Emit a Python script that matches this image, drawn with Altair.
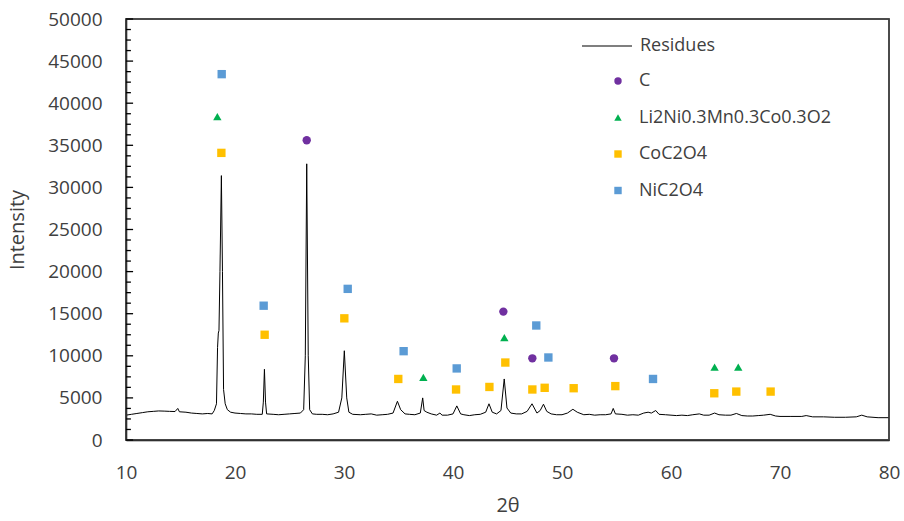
import altair as alt
import pandas as pd

# ---- XRD pattern ----
two_theta = [10.0, 10.5, 11.0, 11.5, 12.0, 12.5, 13.0, 13.5, 14.0, 14.5, 14.75, 14.9, 15.5, 16.0, 16.5,
             17.0, 17.5, 17.9, 18.1, 18.3, 18.4, 18.47, 18.53, 18.62, 18.75, 18.85, 18.95, 19.1, 19.3, 19.6,
             20.0, 20.5, 21.0, 21.5, 22.0, 22.5, 22.6, 22.7, 22.8, 22.9, 23.5, 24.0, 24.5, 25.0, 25.5,
             26.0, 26.3, 26.45, 26.58, 26.72, 26.85, 27.1, 27.5, 28.0, 28.5, 29.0, 29.5, 29.8, 30.03, 30.25,
             30.45, 30.8, 31.5, 32.0, 32.5, 33.0, 33.5, 34.0, 34.5, 34.9, 35.2, 35.6, 36.0, 36.5, 37.0,
             37.22, 37.35, 37.6, 38.0, 38.5, 38.8, 39.0, 39.5, 40.0, 40.35, 40.7, 41.0, 41.5, 42.0, 42.5,
             43.0, 43.3, 43.6, 44.0, 44.4, 44.7, 44.95, 45.3, 45.8, 46.3, 46.8, 47.25, 47.7, 48.0, 48.3,
             48.6, 49.0, 49.5, 50.0, 50.5, 51.0, 51.4, 52.0, 52.5, 53.0, 53.5, 54.0, 54.5, 54.7, 54.9,
             55.5, 56.0, 56.5, 57.0, 57.5, 57.9, 58.2, 58.6, 58.9, 59.5, 60.0, 60.5, 61.0, 61.5, 62.0,
             62.6, 63.0, 63.5, 64.0, 64.4, 65.0, 65.5, 66.0, 66.5, 67.0, 67.5, 68.0, 68.5, 69.1, 69.6,
             70.0, 71.0, 72.0, 72.4, 73.0, 74.0, 75.0, 76.0, 77.0, 77.5, 78.0, 79.0, 80.0]
intensity = [2950, 3050, 3150, 3250, 3350, 3400, 3450, 3430, 3400, 3380, 3750, 3350, 3300, 3200, 3150,
             3100, 3150, 3100, 3500, 4300, 11000, 12700, 13000, 20000, 31400, 20000, 6000, 4300, 3600, 3300,
             3200, 3150, 3100, 3100, 3050, 3050, 4500, 8400, 4500, 3100, 3050, 3000, 3050, 3100, 3150,
             3200, 3600, 10000, 32800, 10000, 3600, 3100, 3050, 3050, 3000, 3100, 3300, 5000, 10600, 5000,
             3300, 3050, 3000, 3050, 3100, 2950, 3000, 3050, 3200, 4600, 3600, 3100, 3050, 3000, 3200,
             5000, 3500, 3300, 3100, 2950, 3200, 2950, 2950, 3100, 4050, 3100, 3000, 2900, 3000, 3050,
             3300, 4300, 3300, 3100, 3500, 7250, 3800, 3200, 3100, 3100, 3400, 4300, 3200, 3500, 4250,
             3400, 3100, 3000, 3000, 3200, 3650, 3300, 3000, 3050, 2950, 3000, 3000, 3100, 3750, 3100,
             3050, 2950, 3000, 2950, 3200, 3300, 3200, 3500, 3050, 3000, 2950, 2900, 2950, 2900, 3000,
             3100, 2950, 2950, 3200, 3000, 2950, 2950, 3150, 2900, 2850, 2850, 2900, 2950, 3050, 2850,
             2800, 2800, 2800, 2900, 2750, 2750, 2700, 2700, 2750, 2950, 2750, 2650, 2650]

# ---- phase markers ----
c_x = [26.58, 44.62, 47.28, 54.77]
c_y = [35600, 15250, 9700, 9700]
li_x = [18.38, 37.28, 44.71, 64.0, 66.17]
li_y = [38400, 7450, 12150, 8650, 8650]
co_x = [18.75, 22.72, 30.03, 34.98, 40.28, 43.34, 44.80, 47.28, 48.41, 51.07, 54.89, 63.97, 65.99, 69.14]
co_y = [34100, 12500, 14450, 7250, 6000, 6300, 9200, 6000, 6200, 6150, 6400, 5550, 5750, 5750]
ni_x = [18.78, 22.63, 30.34, 35.47, 40.34, 47.64, 48.75, 58.35]
ni_y = [43450, 15950, 17950, 10550, 8500, 13600, 9800, 7250]

phases = ["C", "Li2Ni0.3Mn0.3Co0.3O2", "CoC2O4", "NiC2O4"]
phase_colors = ["#7030A0", "#00B050", "#FFC000", "#5B9BD5"]
phase_shapes = ["circle", "triangle-up", "square", "square"]

y_major = [0, 5000, 10000, 15000, 20000, 25000, 30000, 35000, 40000, 45000, 50000]
y_minor = [1250, 2500, 3750, 6250, 7500, 8750, 11250, 12500, 13750, 16250, 17500, 18750,
           21250, 22500, 23750, 26250, 27500, 28750, 31250, 32500, 33750, 36250, 37500, 38750,
           41250, 42500, 43750, 46250, 47500, 48750]
x_ticks = [10, 20, 30, 40, 50, 60, 70, 80]
x_min, x_max = 10, 80
y_min, y_max = 0, 50000

FONT = "Open Sans"
TXT = "#404040"

line_df = pd.DataFrame({"x": two_theta, "y": intensity, "s": "Residues"})
pts = []
for name, xs, ys in [(phases[0], c_x, c_y), (phases[1], li_x, li_y),
                     (phases[2], co_x, co_y), (phases[3], ni_x, ni_y)]:
    for a, b in zip(xs, ys):
        pts.append({"x": a, "y": b, "phase": name})
pts_df = pd.DataFrame(pts)

xscale = alt.Scale(domain=[x_min, x_max], nice=False, zero=False)
yscale = alt.Scale(domain=[y_min, y_max], nice=False)

xaxis = alt.Axis(values=x_ticks, title="2θ", ticks=False, grid=False, labelPadding=23,
                 labelFlush=False, titlePadding=13, labelFontSize=19, titleFontSize=20,
                 labelFont=FONT, titleFont=FONT, labelColor=TXT, titleColor=TXT,
                 titleFontWeight="normal", domainColor="#000000", domainWidth=1.5)
yaxis = alt.Axis(values=y_major, format="d", title="Intensity", ticks=False, grid=False,
                 labelPadding=24, labelFlush=False, titlePadding=20, labelFontSize=19,
                 titleFontSize=20, labelFont=FONT, titleFont=FONT, labelColor=TXT,
                 titleColor=TXT, titleFontWeight="normal", domainColor="#000000", domainWidth=1.5)

line = alt.Chart(line_df).mark_line(strokeWidth=1, interpolate="linear").encode(
    x=alt.X("x:Q", scale=xscale, axis=xaxis),
    y=alt.Y("y:Q", scale=yscale, axis=yaxis),
    stroke=alt.Stroke("s:N", scale=alt.Scale(domain=["Residues"], range=["#000000"]),
                      legend=alt.Legend(title=None, orient="none", legendX=455, legendY=1,
                                        symbolType="stroke", symbolSize=2500, symbolStrokeWidth=1.2,
                                        labelFont=FONT, labelFontSize=18, labelColor=TXT,
                                        labelOffset=7, padding=0, labelLimit=400)),
)

pt_legend = alt.Legend(title=None, orient="none", legendX=483, legendY=53,
                       symbolSize=55, symbolOpacity=1, labelFont=FONT,
                       labelFontSize=18, labelColor=TXT, labelOffset=12,
                       rowPadding=18.5, padding=0, labelLimit=400)

points = alt.Chart(pts_df).mark_point(filled=True, opacity=1, size=70).encode(
    x=alt.X("x:Q", scale=xscale),
    y=alt.Y("y:Q", scale=yscale),
    color=alt.Color("phase:N", scale=alt.Scale(domain=phases, range=phase_colors), legend=pt_legend),
    shape=alt.Shape("phase:N", scale=alt.Scale(domain=phases, range=phase_shapes), legend=pt_legend),
)

# inward y-axis ticks drawn as short line segments through the scales
tick_rows = []
for i, v in enumerate(y_major):
    tick_rows.append({"x": x_min, "y": v, "id": "M%d" % i, "o": 0})
    tick_rows.append({"x": x_min + 0.65, "y": v, "id": "M%d" % i, "o": 1})
for i, v in enumerate(y_minor):
    tick_rows.append({"x": x_min, "y": v, "id": "m%d" % i, "o": 0})
    tick_rows.append({"x": x_min + 0.45, "y": v, "id": "m%d" % i, "o": 1})
ticks_df = pd.DataFrame(tick_rows)
ticks = alt.Chart(ticks_df).mark_line(color="#000000", strokeWidth=1.3).encode(
    x=alt.X("x:Q", scale=xscale), y=alt.Y("y:Q", scale=yscale),
    detail="id:N", order="o:Q")

# plot-area frame as an unfilled rectangle through the scales
box_df = pd.DataFrame({"x": [x_min], "x2": [x_max], "y": [y_min], "y2": [y_max]})
box = alt.Chart(box_df).mark_rect(filled=False, stroke="#404040", strokeWidth=1.5, fillOpacity=0).encode(
    x=alt.X("x:Q", scale=xscale), x2="x2:Q",
    y=alt.Y("y:Q", scale=yscale), y2="y2:Q")

chart = alt.layer(line, box, ticks, points).properties(
    width=763, height=421, autosize=alt.AutoSizeParams(type="none"),
    padding={"left": 126, "top": 19, "right": 15, "bottom": 81},
    background="white",
).configure_view(stroke="#404040", strokeWidth=1.5)

chart.save("out.html", embed_options={"renderer": "svg", "actions": False})
